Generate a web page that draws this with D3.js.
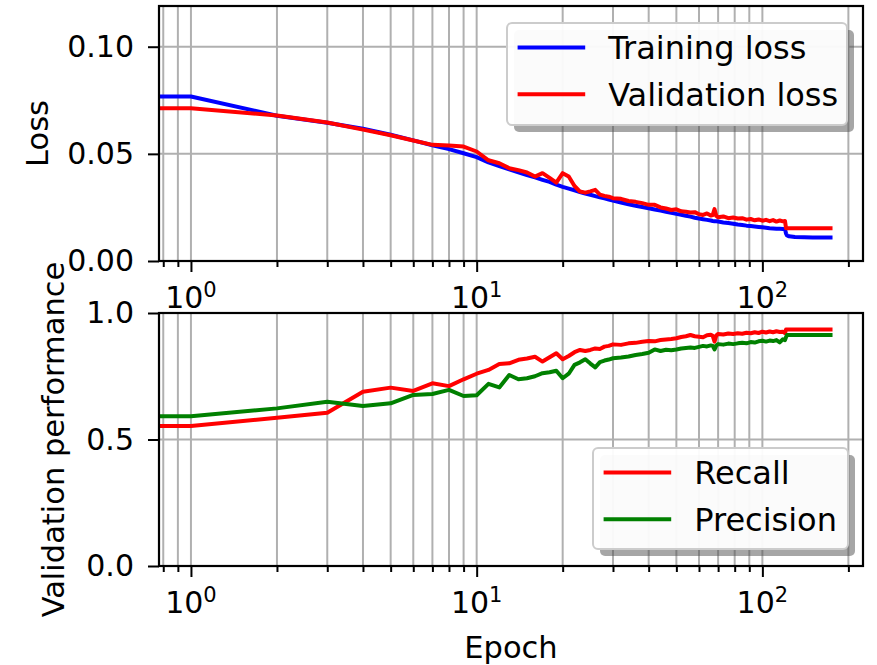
<!DOCTYPE html>
<html>
<head>
<meta charset="utf-8">
<script src="https://cdn.jsdelivr.net/npm/d3@7"></script>
<style>
  body { margin: 0; background: #fff; }
  svg { display: block; font-family: "DejaVu Sans", sans-serif; }
</style>
</head>
<body>
<svg id="chart" width="877" height="665"></svg>
<script>
// epochs (0 sits on the left edge of the log axis, like matplotlib's clip)
const epochs = [
  0, 1, 2, 3, 4, 5, 6, 7, 8, 9, 10, 11, 12, 13, 14, 15, 16, 17, 18, 19, 20, 21, 22, 23, 24, 25, 26, 27, 28, 29, 30,
  32, 34, 36, 38, 40, 42, 44, 46, 48, 50, 52, 54, 56, 58, 60,
  62, 64, 66, 67, 68, 69, 70,
  73, 76, 79, 82, 85, 88, 91, 94, 97, 100, 103, 106, 109, 112, 115, 118,
  120, 121, 122, 124, 130, 140, 150, 160, 176
];

const trainLoss = [
  0.0768, 0.0768, 0.0678, 0.0645, 0.0617, 0.0589, 0.0563, 0.0540, 0.0522, 0.0503, 0.0485, 0.0460, 0.0443, 0.0428, 0.0414, 0.0401,
  0.0390, 0.0379, 0.0369, 0.0356, 0.0346, 0.0338, 0.0330, 0.0322, 0.0315, 0.0309, 0.0303, 0.0297, 0.0292, 0.0287, 0.0282,
  0.0273, 0.0265, 0.0258, 0.0252, 0.0246, 0.0240, 0.0235, 0.0230, 0.0225, 0.0220, 0.0216, 0.0211, 0.0207, 0.0202, 0.0198,
  0.0195, 0.0192, 0.0189, 0.0187, 0.0186, 0.0185, 0.0184,
  0.0180, 0.0177, 0.0174, 0.0170, 0.0168, 0.0165, 0.0163, 0.0161, 0.0159, 0.0157, 0.0155, 0.0153, 0.0152, 0.0151, 0.0150, 0.0149,
  0.0148, 0.0128, 0.0119, 0.0115, 0.0112, 0.0111, 0.0110, 0.0110, 0.0110
];

const valLoss = [
  0.0713, 0.0713, 0.0679, 0.0646, 0.0613, 0.0587, 0.0562, 0.0542, 0.0539, 0.0534, 0.0511, 0.0470, 0.0456, 0.0433, 0.0424, 0.0413,
  0.0394, 0.0410, 0.0388, 0.0366, 0.0410, 0.0394, 0.0350, 0.0324, 0.0319, 0.0325, 0.0332, 0.0310, 0.0304, 0.0300, 0.0293,
  0.0290, 0.0280, 0.0276, 0.0270, 0.0262, 0.0262, 0.0250, 0.0245, 0.0238, 0.0241, 0.0232, 0.0230, 0.0226, 0.0228, 0.0218,
  0.0215, 0.0222, 0.0212, 0.0214, 0.0242, 0.0210, 0.0204,
  0.0208, 0.0200, 0.0203, 0.0198, 0.0200, 0.0193, 0.0196, 0.0190, 0.0194, 0.0188, 0.0192, 0.0186, 0.0191, 0.0184, 0.0189, 0.0185,
  0.0187, 0.0153, 0.0153, 0.0153, 0.0153, 0.0153, 0.0153, 0.0153, 0.0153
];

const recall = [
  0.553, 0.553, 0.586, 0.606, 0.689, 0.705, 0.692, 0.722, 0.711, 0.738, 0.760, 0.775, 0.798, 0.801, 0.815, 0.820,
  0.827, 0.808, 0.825, 0.841, 0.817, 0.830, 0.845, 0.854, 0.850, 0.854, 0.860, 0.858, 0.867, 0.870, 0.876,
  0.874, 0.880, 0.882, 0.886, 0.889, 0.888, 0.893, 0.895, 0.897, 0.900, 0.905, 0.908, 0.913, 0.908, 0.906,
  0.904, 0.912, 0.914, 0.910, 0.887, 0.912, 0.917,
  0.915, 0.919, 0.917, 0.920, 0.918, 0.922, 0.920, 0.924, 0.921, 0.926, 0.923, 0.927, 0.924, 0.928, 0.925, 0.926,
  0.920, 0.935, 0.935, 0.935, 0.935, 0.935, 0.935, 0.935, 0.935
];

const precision = [
  0.592, 0.592, 0.623, 0.649, 0.632, 0.643, 0.676, 0.680, 0.696, 0.672, 0.675, 0.720, 0.706, 0.755, 0.738, 0.742,
  0.750, 0.762, 0.766, 0.772, 0.742, 0.760, 0.795, 0.805, 0.817, 0.800, 0.785, 0.806, 0.812, 0.816, 0.821,
  0.824, 0.828, 0.834, 0.838, 0.843, 0.856, 0.850, 0.855, 0.853, 0.856, 0.860, 0.862, 0.864, 0.862, 0.866,
  0.870, 0.868, 0.872, 0.870, 0.856, 0.872, 0.877,
  0.875, 0.879, 0.877, 0.880, 0.882, 0.880, 0.885, 0.883, 0.888, 0.890, 0.887, 0.891, 0.889, 0.893, 0.884, 0.896,
  0.893, 0.905, 0.913, 0.913, 0.913, 0.913, 0.913, 0.913, 0.913
];

const lossTicks = [0, 0.05, 0.10];
const perfTicks = [0, 0.5, 1.0];
const xMajorTicks = [1, 10, 100];
const xTickExponents = ['0', '1', '2'];

const svg = d3.select('#chart');
const left = 159, right = 863;
const fontSize = 30;
const labelSize = 30.5;
const legendSize = 32;

let x = d3.scaleLog().domain([0.773, 225]).range([left, right]).clamp(true);
let xMinorTicks = x.ticks().filter(function(t) { return xMajorTicks.indexOf(t) < 0; });

let panels = [
  {
    top: 6, bottom: 261, ymax: 0.119, ticks: lossTicks, fmt: d3.format('.2f'),
    label: 'Loss', labelX: 48,
    series: [
      {name: 'Training loss', values: trainLoss, color: '#0000ff'},
      {name: 'Validation loss', values: valLoss, color: '#ff0000'}
    ],
    legend: {x: 507, y: 23, w: 340, h: 102}
  },
  {
    top: 313, bottom: 566, ymax: 1.0, ticks: perfTicks, fmt: d3.format('.1f'),
    label: 'Validation performance', labelX: 64,
    series: [
      {name: 'Recall', values: recall, color: '#ff0000'},
      {name: 'Precision', values: precision, color: '#008000'}
    ],
    legend: {x: 593, y: 448, w: 255, h: 101}
  }
];

panels.forEach(function(p, i) {
  let y = d3.scaleLinear().domain([0, p.ymax]).range([p.bottom, p.top]);
  let g = svg.append('g');

  g.append('clipPath').attr('id', 'clip' + i)
    .append('rect')
    .attr('x', left).attr('y', p.top)
    .attr('width', right - left).attr('height', p.bottom - p.top);

  // grid
  g.selectAll('line.vgrid')
    .data(x.ticks())
    .enter().append('line')
    .attr('x1', function(d) { return x(d); })
    .attr('x2', function(d) { return x(d); })
    .attr('y1', p.top).attr('y2', p.bottom)
    .style('stroke', '#b0b0b0').style('stroke-width', 2);

  g.selectAll('line.hgrid')
    .data(p.ticks)
    .enter().append('line')
    .attr('x1', left).attr('x2', right)
    .attr('y1', function(d) { return y(d); })
    .attr('y2', function(d) { return y(d); })
    .style('stroke', '#b0b0b0').style('stroke-width', 2);

  // lines
  let line = d3.line()
    .x(function(d, j) { return x(epochs[j]); })
    .y(function(d) { return y(d); });

  p.series.forEach(function(s) {
    g.append('path')
      .attr('d', line(s.values))
      .attr('clip-path', 'url(#clip' + i + ')')
      .style('fill', 'none')
      .style('stroke', s.color)
      .style('stroke-width', 4)
      .style('stroke-linejoin', 'round');
  });

  // axes
  let minorAxis = d3.axisBottom(x).tickValues(xMinorTicks).tickSize(6).tickFormat('');
  let majorAxis = d3.axisBottom(x).tickValues(xMajorTicks).tickSize(11).tickFormat('');
  let yAxis = d3.axisLeft(y).tickValues(p.ticks).tickSize(11).tickPadding(14).tickFormat(p.fmt);

  [minorAxis, majorAxis].forEach(function(ax) {
    let a = g.append('g').attr('transform', 'translate(0,' + p.bottom + ')').call(ax);
    a.select('.domain').remove();
    a.selectAll('line').style('stroke', '#000').style('stroke-width', 2);
  });

  let ya = g.append('g').attr('transform', 'translate(' + left + ',0)').call(yAxis);
  ya.select('.domain').remove();
  ya.selectAll('line').style('stroke', '#000').style('stroke-width', 2);
  ya.selectAll('text').style('font-size', fontSize + 'px').style('font-family', '"DejaVu Sans"').style('fill', '#000');

  // x tick labels as 10^k
  let lbl = g.selectAll('text.xl')
    .data(xMajorTicks)
    .enter().append('text')
    .attr('x', function(d) { return x(d); })
    .attr('y', p.bottom + 46.5)
    .attr('text-anchor', 'middle')
    .style('font-size', fontSize + 'px');
  lbl.append('tspan').text('10');
  lbl.append('tspan')
    .attr('dy', -10.5)
    .style('font-size', (fontSize * 0.7) + 'px')
    .text(function(d, j) { return xTickExponents[j]; });

  // frame
  g.append('rect')
    .attr('x', left).attr('y', p.top)
    .attr('width', right - left).attr('height', p.bottom - p.top)
    .style('fill', 'none').style('stroke', '#000').style('stroke-width', 2.2);

  // y label
  g.append('text')
    .attr('transform', 'translate(' + p.labelX + ',' + ((p.top + p.bottom) / 2) + ') rotate(-90)')
    .attr('text-anchor', 'middle')
    .style('font-size', labelSize + 'px')
    .text(p.label);

  // legend
  let L = p.legend;
  let lg = g.append('g');
  lg.append('rect')
    .attr('x', L.x + 7).attr('y', L.y + 7).attr('width', L.w).attr('height', L.h)
    .attr('rx', 5)
    .style('fill', '#4d4d4d').style('fill-opacity', 0.5);
  lg.append('rect')
    .attr('x', L.x).attr('y', L.y).attr('width', L.w).attr('height', L.h)
    .attr('rx', 5)
    .style('fill', '#fff').style('fill-opacity', 0.95)
    .style('stroke', '#cccccc').style('stroke-width', 2);

  p.series.forEach(function(s, k) {
    let ry = L.y + 24.5 + k * 46.8;
    lg.append('line')
      .attr('x1', L.x + 10.6).attr('x2', L.x + 78.2)
      .attr('y1', ry).attr('y2', ry)
      .style('stroke', s.color).style('stroke-width', 4);
    lg.append('text')
      .attr('x', L.x + 101.2).attr('y', ry + 11.5)
      .style('font-size', legendSize + 'px')
      .text(s.name);
  });
});

// x label
svg.append('text')
  .attr('x', (left + right) / 2).attr('y', 658)
  .attr('text-anchor', 'middle')
  .style('font-size', labelSize + 'px')
  .text('Epoch');
</script>
</body>
</html>
